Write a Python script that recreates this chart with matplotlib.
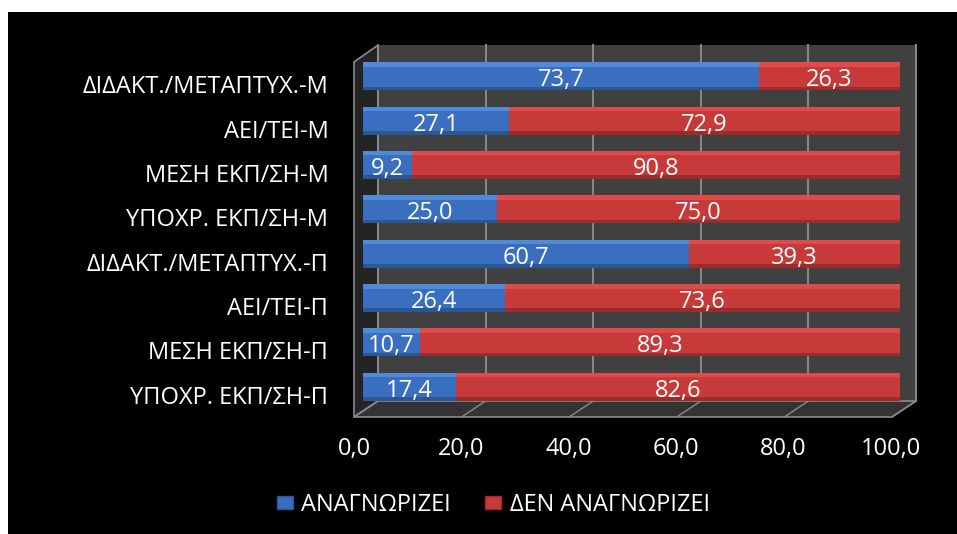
import matplotlib
matplotlib.use('Agg')
import matplotlib.pyplot as plt
from matplotlib.patches import Rectangle, Polygon, Patch
from matplotlib.transforms import ScaledTranslation

categories = ['ΥΠΟΧΡ. ΕΚΠ/ΣΗ-Π', 'ΜΕΣΗ ΕΚΠ/ΣΗ-Π', 'ΑΕΙ/ΤΕΙ-Π', 'ΔΙΔΑΚΤ./ΜΕΤΑΠΤΥΧ.-Π',
              'ΥΠΟΧΡ. ΕΚΠ/ΣΗ-Μ', 'ΜΕΣΗ ΕΚΠ/ΣΗ-Μ', 'ΑΕΙ/ΤΕΙ-Μ', 'ΔΙΔΑΚΤ./ΜΕΤΑΠΤΥΧ.-Μ']
recognizes = [17.4, 10.7, 26.4, 60.7, 25.0, 9.2, 27.1, 73.7]
not_recognizes = [82.6, 89.3, 73.6, 39.3, 75.0, 90.8, 72.9, 26.3]
series_names = ['ΑΝΑΓΝΩΡΙΖΕΙ', 'ΔΕΝ ΑΝΑΓΝΩΡΙΖΕΙ']
x_ticks = [0, 20, 40, 60, 80, 100]

plt.rcParams['font.family'] = ['Open Sans', 'DejaVu Sans']
FS = 17

W, H, DPI = 957, 534, 100
fig = plt.figure(figsize=(W / DPI, H / DPI), dpi=DPI, facecolor='white')
fig.patches.append(Rectangle((8 / W, 0), 1 - 8 / W, 1 - 12 / H, transform=fig.transFigure,
                             facecolor='black', edgecolor='none', zorder=-10))

ax = fig.add_axes([363 / W, 125 / H, 537 / W, 355 / H])
ax.set_zorder(5)
ax.set_xlim(0, 100)
ax.set_ylim(-0.5, 7.5)
ax.patch.set_visible(False)
for s in ax.spines.values():
    s.set_visible(False)

# 3D decorations (back wall, side wall, floor)
grid_c = '#8a8a8a'
ax.add_patch(Rectangle((2.79, -0.34), 100.19, 8.04, facecolor='#404040', edgecolor='none',
                       clip_on=False, zorder=0))
ax.add_patch(Polygon([(-1.68, -0.68), (2.79, -0.32), (2.79, 7.70), (-1.68, 7.32)],
                     closed=True, facecolor='#242424', edgecolor=grid_c, lw=1.2,
                     clip_on=False, zorder=0.5))
ax.add_patch(Polygon([(-1.68, -0.68), (98.5, -0.68), (102.98, -0.32), (2.79, -0.32)],
                     closed=True, facecolor='#333333', edgecolor=grid_c, lw=1.2,
                     clip_on=False, zorder=0.5))
for t in x_ticks:
    xb = 2.79 + t * 1.0019
    xf = -1.68 + t * 1.0018
    ax.plot([xb, xb], [-0.32, 7.70], color=grid_c, lw=1.4, clip_on=False, zorder=0.6)
    ax.plot([xf, xb], [-0.68, -0.32], color=grid_c, lw=1.0, clip_on=False, zorder=0.6)

y = list(range(len(categories)))
h = 0.63
totals = [r + n for r, n in zip(recognizes, not_recognizes)]

ax.barh(y, recognizes, height=h, color='#3A6FBF', zorder=3)
ax.barh(y, not_recognizes, left=recognizes, height=h, color='#C63A3A', zorder=3)
# 3D highlights / shading
ax.barh([v + h / 2 - 0.05 for v in y], recognizes, height=0.1, color='#4F8BD8', zorder=3.2)
ax.barh([v + h / 2 - 0.05 for v in y], not_recognizes, left=recognizes, height=0.1,
        color='#E04A4A', zorder=3.2)
ax.barh([v - h / 2 + 0.04 for v in y], recognizes, height=0.08, color='#2C5796', zorder=3.2)
ax.barh([v - h / 2 + 0.04 for v in y], not_recognizes, left=recognizes, height=0.08,
        color='#9A2C2C', zorder=3.2)
ax.barh(y, [1.3] * len(y), left=totals, height=h, color='#8E2828', zorder=3.1)

for yi, r, n in zip(y, recognizes, not_recognizes):
    ax.text(r / 2, yi - 0.09, f'{r:.1f}'.replace('.', ','), ha='center', va='center',
            color='white', fontsize=FS, zorder=5)
    ax.text(r + n / 2, yi - 0.09, f'{n:.1f}'.replace('.', ','), ha='center', va='center',
            color='white', fontsize=FS, zorder=5)

ax.set_yticks(y)
ax.set_yticklabels(categories, color='white', fontsize=FS)
ax.tick_params(axis='y', length=0, pad=25)
for lab in ax.get_yticklabels():
    lab.set_transform(lab.get_transform() + ScaledTranslation(0, -8 / DPI, fig.dpi_scale_trans))

ax.set_xticks(x_ticks)
ax.set_xticklabels([f'{t:.1f}'.replace('.', ',') for t in x_ticks], color='white', fontsize=FS)
ax.tick_params(axis='x', length=0, pad=20)
for lab in ax.get_xticklabels():
    lab.set_transform(lab.get_transform() + ScaledTranslation(-9 / DPI, 0, fig.dpi_scale_trans))

handles = [Patch(facecolor='#3A6FBF', edgecolor='#2C5796'),
           Patch(facecolor='#C63A3A', edgecolor='#9A2C2C')]
fig.legend(handles, series_names, loc='center', bbox_to_anchor=(493.5 / W, 1 - 505 / H),
           ncol=2, frameon=False, labelcolor='white', fontsize=FS,
           handlelength=0.68, handleheight=0.5, handletextpad=0.35, columnspacing=1.45,
           borderpad=0, borderaxespad=0)

fig.savefig('out.png', dpi=DPI, facecolor='white')
